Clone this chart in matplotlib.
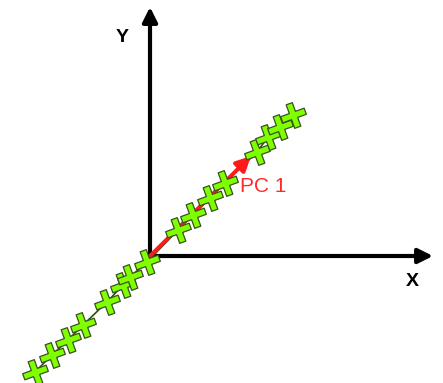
import matplotlib.pyplot as plt
from matplotlib.path import Path
from matplotlib.markers import MarkerStyle
from matplotlib.transforms import Affine2D

# points along the principal direction (origin = where the axes cross)
xs = [-115, -98, -82, -67, -43, -27, -20, -3, 28, 43, 60, 75, 107, 118, 130, 143]
ys = [-116, -99, -84, -69, -46, -29, -21, -6, 26, 41, 58, 73, 104, 119, 129, 141]
pc1_tip = (101, 100)
x_end = 283
y_end = 249

plt.rcParams['font.family'] = ['Liberation Sans', 'DejaVu Sans']

fig = plt.figure(figsize=(4.43, 3.83), dpi=100)
ax = fig.add_axes([0, 0, 1, 1])
ax.set_xlim(-150, 293)
ax.set_ylim(-127, 256)
ax.axis('off')

# axes arrows
ax.annotate('', xy=(0, y_end), xytext=(0, -1.5),
            arrowprops=dict(arrowstyle='-|>', lw=3, color='black',
                            mutation_scale=22, shrinkA=0, shrinkB=0), zorder=1)
ax.annotate('', xy=(x_end, 0), xytext=(-1.5, 0),
            arrowprops=dict(arrowstyle='-|>', lw=3, color='black',
                            mutation_scale=22, shrinkA=0, shrinkB=0), zorder=1)
ax.text(-28, 219, 'Y', fontsize=14, fontweight='bold', ha='center', va='center')
ax.text(262, -26, 'X', fontsize=14, fontweight='bold', ha='center', va='center')

# thin connector under everything else
ax.plot(xs, ys, color='#2f4f10', lw=1.2, zorder=1.5)

# PC 1 arrow
ax.annotate('', xy=pc1_tip, xytext=(0, 0),
            arrowprops=dict(arrowstyle='-|>', lw=2.8, color='#ff1a1a',
                            mutation_scale=22, shrinkA=0, shrinkB=0), zorder=2)
ax.text(113, 70, 'PC 1', fontsize=15, color='#ff2a2a', ha='center', va='center')

# plus-shaped marker, slightly tilted
w = 0.26
verts = [(-w, 1), (w, 1), (w, w), (1, w), (1, -w), (w, -w), (w, -1), (-w, -1),
         (-w, -w), (-1, -w), (-1, w), (-w, w), (-w, 1)]
plus = MarkerStyle(Path(verts, closed=True), transform=Affine2D().rotate_deg(20))

ax.plot(xs, ys, ls='none', marker=plus, markersize=18, markerfacecolor='#80ff00',
        markeredgecolor='#3a5020', markeredgewidth=0.9, zorder=4)

fig.savefig('out.png', dpi=100)
